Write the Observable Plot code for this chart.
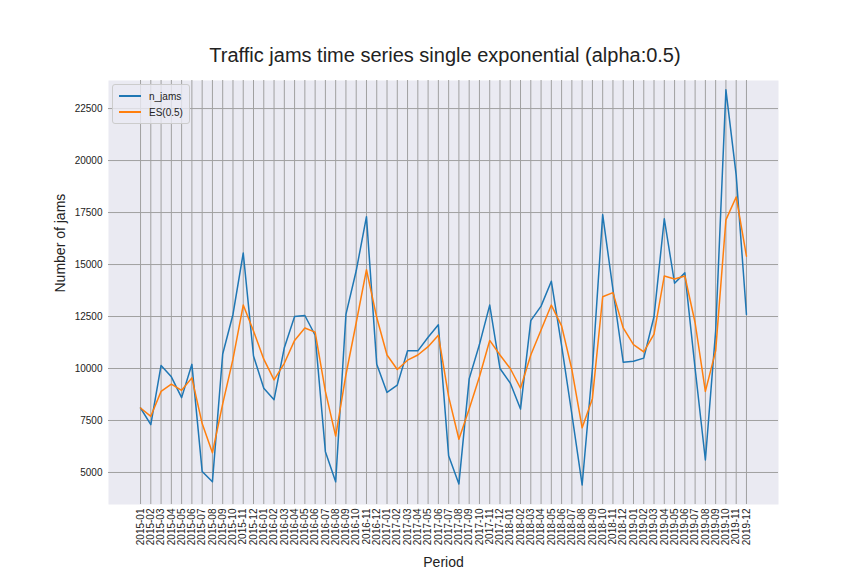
<!DOCTYPE html>
<html><head><meta charset="utf-8">
<script src="https://cdn.jsdelivr.net/npm/d3@7"></script>
<script src="https://cdn.jsdelivr.net/npm/@observablehq/plot@0.6"></script>
<style>
body{margin:0;background:#fff;font-family:"Liberation Sans",Arial,sans-serif;}
#wrap{position:relative;width:864px;height:576px;}
#title{position:absolute;top:44px;left:13px;width:864px;text-align:center;font-size:20px;color:#222}
#legend{position:absolute;left:112px;top:84px;background:rgba(234,234,242,0.8);border:1px solid #ccc;border-radius:3px;padding:3px 6px;font-size:10px;color:#222;}
#legend div{display:flex;align-items:center;height:16px}
#legend span{display:inline-block;width:22px;height:2px;margin-right:8px}
</style></head>
<body><div id="wrap"><div id="myplot"></div>
<div id="title">Traffic jams time series single exponential (alpha:0.5)</div>
<div id="legend"><div><span style="background:#1f77b4"></span>n_jams</div><div><span style="background:#ff7f0e"></span>ES(0.5)</div></div>
</div>
<script>
const years = [2015, 2016, 2017, 2018, 2019];
const periods = years.flatMap(y => d3.range(1, 13).map(m => `${y}-${String(m).padStart(2, "0")}`));

const nJams = [8100, 7300, 10150, 9600, 8600, 10200, 5050, 4550, 10700, 12600, 15550, 10600,
  9050, 8500, 11000, 12500, 12550, 11600, 6000, 4550, 12600, 14700, 17300, 10200,
  8850, 9200, 10850, 10850, 11500, 12100, 5800, 4450, 9500, 11150, 13050, 10000,
  9300, 8050, 12300, 13000, 14200, 11100, 7800, 4400, 10000, 17400, 13800, 10300,
  10350, 10500, 12500, 17200, 14100, 14600, 10000, 5600, 11800, 23400, 19300, 12600];

const es = [8100, 7700, 8900, 9250, 8950, 9550, 7350, 5950, 8300, 10450, 13050, 11800,
  10450, 9450, 10250, 11350, 11950, 11750, 8900, 6750, 9700, 12200, 14750, 12450,
  10650, 9950, 10400, 10650, 11050, 11600, 8650, 6600, 8050, 9600, 11350, 10650,
  10000, 9050, 10650, 11850, 13050, 12050, 9950, 7150, 8550, 13450, 13650, 11950,
  11150, 10800, 11650, 14450, 14300, 14450, 12200, 8900, 10850, 17150, 18250, 15400];

const yTicks = [5000, 7500, 10000, 12500, 15000, 17500, 20000, 22500];

const rows = periods.flatMap((p, i) => [
  {i, value: nJams[i], series: "n_jams"},
  {i, value: es[i], series: "ES(0.5)"}
]);

const plot = Plot.plot({
  width: 864,
  height: 576,
  marginLeft: 108,
  marginRight: 86,
  marginTop: 80,
  marginBottom: 72,
  style: {fontFamily: "Liberation Sans, Arial, sans-serif", fontSize: "10px", color: "#222"},
  x: {domain: [-3.12, 62.12], label: null},
  y: {domain: [3460, 23850], label: null},
  color: {domain: ["n_jams", "ES(0.5)"], range: ["#1f77b4", "#ff7f0e"]},
  marks: [
    Plot.frame({fill: "#eaeaf2", stroke: null}),
    Plot.ruleX(d3.range(periods.length), {stroke: "#a0a0a0", strokeWidth: 1}),
    Plot.ruleY(yTicks, {stroke: "#a0a0a0", strokeWidth: 1}),
    Plot.axisX(d3.range(periods.length), {tickSize: 0, tickRotate: -90, tickPadding: 4,
      tickFormat: i => periods[i], label: null, fontSize: 10}),
    Plot.axisY(yTicks, {tickSize: 0, tickPadding: 6, tickFormat: d => String(d), label: null, fontSize: 10}),
    Plot.line(rows, {x: "i", y: "value", z: "series", stroke: "series", strokeWidth: 1.5}),
    Plot.text(["Period"], {frameAnchor: "bottom", dy: 62, fontSize: 14}),
    Plot.text(["Number of jams"], {frameAnchor: "left", dx: -48, rotate: -90, fontSize: 14})
  ]
});
document.querySelector("#myplot").append(plot);
</script></body></html>
